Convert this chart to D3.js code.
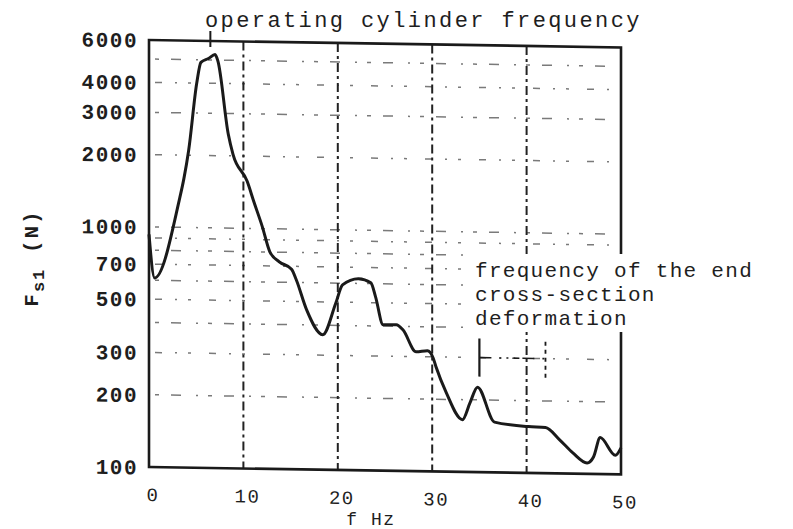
<!DOCTYPE html>
<html>
  <head>
    <meta charset="UTF-8">
    <title>Fsl vs f</title>
    <style>
      body { margin: 0; background: #fff; }
      text { font-family: "Liberation Mono", "DejaVu Sans Mono", monospace; fill: #1e1e1e; }
    </style>
  </head>
  <body>
    <svg width="793" height="529" id="chart"></svg>
    <script src="https://cdn.jsdelivr.net/npm/d3@7"></script>
    <script>
      // values
      var freq  = [0, 0.6, 3.2, 3.7, 4.2, 5.05, 5.5, 6.3, 7.0, 7.3, 8.4, 8.9, 10.4, 11.1, 12.0, 12.8, 13.8, 15.1, 15.6, 16.7,
                   18.4, 19.8, 20.5, 22.2, 23.5, 24.0, 24.8, 26.2, 26.9, 28.3, 29.5, 30.1, 30.4, 31.5, 33.2, 34.0, 34.8, 36.6,
                   40.2, 42.0, 43.5, 44.9, 46.4, 47.1, 47.8, 49.4, 50];
      var force = [930, 613, 1296, 1600, 2094, 3980, 4880, 5070, 5270, 4950, 2460, 2030, 1570, 1296, 1020, 802, 729, 681, 616, 462,
                   365, 497, 590, 628, 605, 529, 405, 406, 387, 314, 318, 297, 273, 213, 165, 194, 226, 162,
                   156, 155, 138, 122, 111, 118, 142, 120, 129];

      var xTicks = [0, 10, 20, 30, 40, 50];
      var yTicks = [100, 200, 300, 500, 700, 1000, 2000, 3000, 4000, 6000];
      var xGrid = [10, 20, 30, 40];
      var yGrid = [200, 300, 400, 500, 600, 700, 800, 900, 1000, 2000, 3000, 4000, 5000];

      var operatingFreq = 6.5;
      var endFreq = 35, endFreq2 = 42;
      var endRange = [250, 360];

      var svg = d3.select("#chart");

      var x = d3.scaleLinear().domain([0, 50]).range([149, 621]);
      var y = d3.scaleLog().domain([100, 6000]).range([467, 40]);

      // the scan is slightly skewed, right side sits lower
      var g = svg.append("g")
        .attr("transform", "translate(0," + (-x(0) * Math.tan(0.9 * Math.PI / 180)) + ") skewY(0.9)");

      // horizontal grid (broken dash-dot)
      g.selectAll(".hgrid")
        .data(yGrid)
        .enter().append("line")
        .attr("class", "hgrid")
        .attr("x1", x(0) + 6).attr("x2", x(50) - 4)
        .attr("y1", function(d) { return y(d); })
        .attr("y2", function(d) { return y(d); })
        .attr("stroke", "#333")
        .attr("stroke-width", 1.5)
        .attr("stroke-opacity", 0.65)
        .attr("stroke-dasharray", function(d, i) { return i % 2 ? "7,13,2,11,3,18" : "4,12,10,15,2,10"; });

      // vertical grid
      g.selectAll(".vgrid")
        .data(xGrid)
        .enter().append("line")
        .attr("class", "vgrid")
        .attr("x1", function(d) { return x(d); })
        .attr("x2", function(d) { return x(d); })
        .attr("y1", y(6000)).attr("y2", y(100))
        .attr("stroke", "#222")
        .attr("stroke-width", 2)
        .attr("stroke-dasharray", "9,4,3,4");

      // frame
      g.append("rect")
        .attr("x", x(0)).attr("y", y(6000))
        .attr("width", x(50) - x(0)).attr("height", y(100) - y(6000))
        .attr("fill", "none")
        .attr("stroke", "#1a1a1a")
        .attr("stroke-width", 2.6);

      // curve
      var pts = freq.map(function(f, i) { return [f, force[i]]; });
      var line = d3.line()
        .x(function(d) { return x(d[0]); })
        .y(function(d) { return y(d[1]); })
        .curve(d3.curveMonotoneX);

      g.append("path")
        .datum(pts)
        .attr("d", line)
        .attr("fill", "none")
        .attr("stroke", "#1a1a1a")
        .attr("stroke-width", 3)
        .attr("stroke-linejoin", "round");

      // y tick labels
      g.selectAll(".ylab")
        .data(yTicks)
        .enter().append("text")
        .attr("class", "ylab")
        .attr("x", x(0) - 11)
        .attr("y", function(d) { return y(d); })
        .attr("dy", "0.36em")
        .attr("text-anchor", "end")
        .attr("font-size", 21)
        .attr("font-weight", "bold")
        .attr("letter-spacing", 1.5)
        .text(function(d) { return d; });

      // x tick labels
      g.selectAll(".xlab")
        .data(xTicks)
        .enter().append("text")
        .attr("class", "xlab")
        .attr("x", function(d) { return x(d) + 4; })
        .attr("y", y(100) + 34)
        .attr("text-anchor", "middle")
        .attr("font-size", 19)
        .attr("letter-spacing", 1.5)
        .text(function(d) { return d; });

      // x axis title
      svg.append("text")
        .attr("x", x(20.9))
        .attr("y", 525)
        .attr("font-size", 18)
        .attr("letter-spacing", 1.5)
        .text("f Hz");

      // operating cylinder frequency marker
      g.append("line")
        .attr("x1", x(operatingFreq)).attr("x2", x(operatingFreq))
        .attr("y1", y(6000) - 10).attr("y2", y(6000) + 6)
        .attr("stroke", "#1a1a1a").attr("stroke-width", 2);

      svg.append("text")
        .attr("x", 205).attr("y", 27)
        .attr("font-size", 22)
        .attr("letter-spacing", 2.4)
        .text("operating cylinder frequency");

      // end cross-section annotation (white backing hides the frame behind it)
      svg.append("rect")
        .attr("x", 470).attr("y", 254)
        .attr("width", 300).attr("height", 78)
        .attr("fill", "#fff");

      var note = svg.append("text")
        .attr("x", 475).attr("y", 277)
        .attr("font-size", 21)
        .attr("letter-spacing", 1.3);
      ["frequency of the end", "cross-section", "deformation"].forEach(function(s, i) {
        note.append("tspan").attr("x", 475).attr("dy", i ? 24 : 0).text(s);
      });

      g.append("line")
        .attr("x1", x(endFreq)).attr("x2", x(endFreq))
        .attr("y1", y(endRange[0])).attr("y2", y(endRange[1]))
        .attr("stroke", "#1a1a1a").attr("stroke-width", 2.2);
      g.append("line")
        .attr("x1", x(endFreq)).attr("x2", x(endFreq2))
        .attr("y1", y(300)).attr("y2", y(300))
        .attr("stroke", "#1a1a1a").attr("stroke-width", 1.6)
        .attr("stroke-dasharray", "12,8,2,5,2,5,6,3");
      g.append("line")
        .attr("x1", x(endFreq2)).attr("x2", x(endFreq2))
        .attr("y1", y(endRange[0])).attr("y2", y(endRange[1]))
        .attr("stroke", "#1a1a1a").attr("stroke-width", 1.8)
        .attr("stroke-dasharray", "4,4");

      // y axis title, rotated
      var yt = svg.append("text")
        .attr("transform", "translate(38,258) rotate(-90)")
        .attr("text-anchor", "middle")
        .attr("font-size", 21)
        .attr("font-weight", "bold")
        .attr("letter-spacing", 2);
      yt.append("tspan").text("F");
      yt.append("tspan").attr("font-size", 17).attr("dy", 6).text("s1");
      yt.append("tspan").attr("dy", -6).text("  (N)");
    </script>
  </body>
</html>
